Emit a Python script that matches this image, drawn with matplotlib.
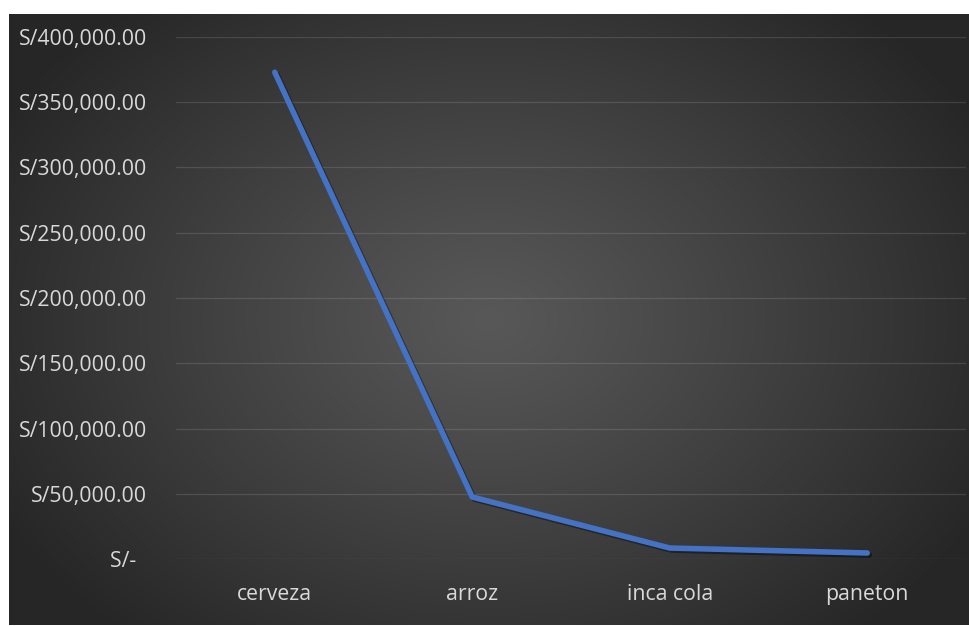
import numpy as np
import matplotlib.pyplot as plt
import matplotlib.patheffects as pe
from matplotlib.ticker import FuncFormatter

productos = ["cerveza", "arroz", "inca cola", "paneton"]
ventas = [373000, 47500, 8400, 4600]
ticks_y = [0, 50000, 100000, 150000, 200000, 250000, 300000, 350000, 400000]

W, H = 970, 626
fig = plt.figure(figsize=(W / 100, H / 100), dpi=100, facecolor="white")

# dark panel with a soft radial glow in the middle
bg = fig.add_axes([9 / W, 1 - 625 / H, 960 / W, 611 / H])
yy, xx = np.mgrid[0:611, 0:960]
r = np.sqrt(((xx - 480) / 560) ** 2 + ((yy - 305) / 420) ** 2)
r = np.clip(r, 0, 1)
inner = np.array([0x58, 0x58, 0x58]) / 255
outer = np.array([0x26, 0x26, 0x26]) / 255
img = inner + (outer - inner) * r[..., None] ** 1.1
bg.imshow(img, aspect="auto", interpolation="bilinear")
bg.axis("off")

left, right, top, bottom = 176, 966, 37, 559
ax = fig.add_axes([left / W, 1 - bottom / H, (right - left) / W, (bottom - top) / H])
ax.patch.set_alpha(0)

x = np.arange(len(productos))
ax.plot(x, ventas, color="#4472C4", lw=4, solid_capstyle="round",
        solid_joinstyle="round", clip_on=False, zorder=3,
        path_effects=[pe.SimpleLineShadow(offset=(1.5, -1.5), shadow_color="black", alpha=0.4),
                      pe.Normal()])

ax.set_xlim(-0.5, len(productos) - 0.5)
ax.set_ylim(0, 400000)
ax.set_yticks(ticks_y)
ax.yaxis.set_major_formatter(FuncFormatter(
    lambda v, p: "S/-  " if v == 0 else f"S/{v:,.2f}"))
ax.set_xticks(x)
ax.set_xticklabels(productos)

ax.grid(axis="y", color="white", alpha=0.12, lw=0.9)
ax.set_axisbelow(True)
for s in ax.spines.values():
    s.set_visible(False)
ax.tick_params(length=0, colors="#d9d9d9", labelsize=15.3)
ax.tick_params(axis="y", pad=21)
ax.tick_params(axis="x", pad=18)
for lab in ax.get_xticklabels() + ax.get_yticklabels():
    lab.set_fontfamily("Open Sans")

fig.savefig("out.png", dpi=100, facecolor="white")
